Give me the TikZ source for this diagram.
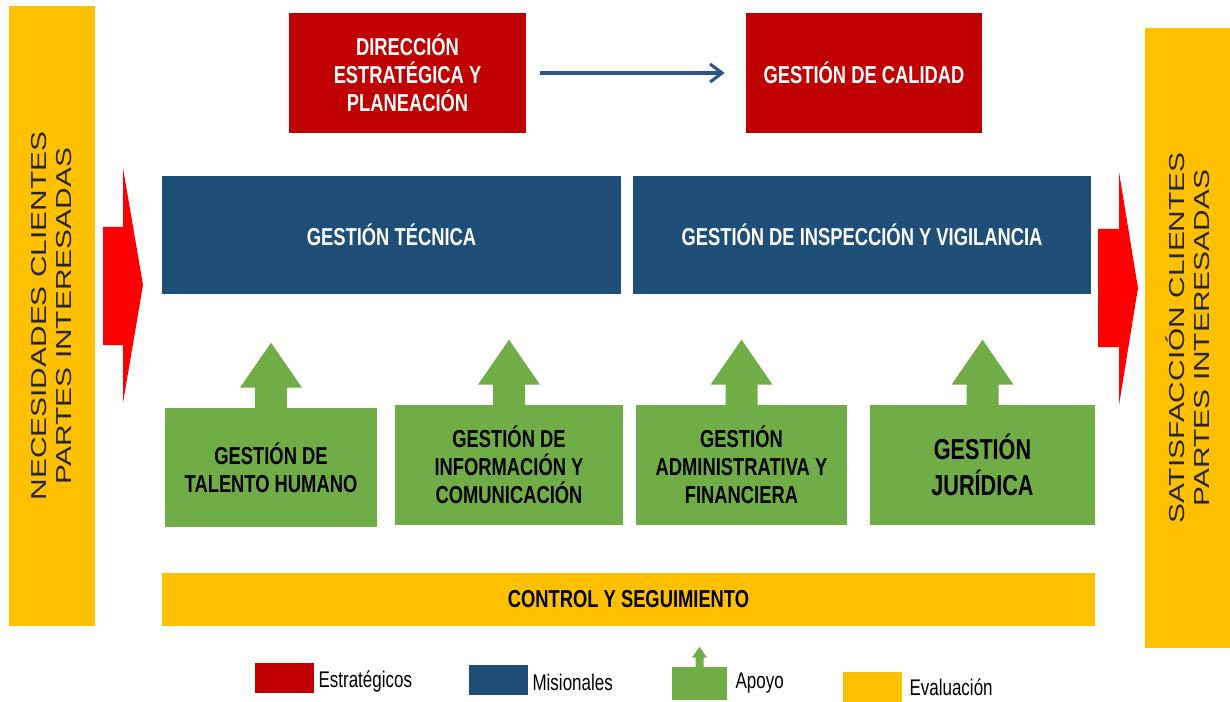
\documentclass[tikz,border=0pt]{standalone}
\usepackage{fontspec}
\setmainfont{Liberation Sans}
\newfontfamily\condfont[FakeStretch=0.75]{Liberation Sans}
\newfontfamily\widefont[FakeStretch=1.38]{Liberation Sans}
\usepackage{tikz}
\usetikzlibrary{positioning, arrows.meta}
\definecolor{estrat}{HTML}{C00000}
\definecolor{mision}{HTML}{1F4E79}
\definecolor{apoyo}{HTML}{70AD47}
\definecolor{evalua}{HTML}{FFC000}
\definecolor{flecha}{HTML}{FF0000}
\definecolor{linea}{HTML}{2C5585}
\tikzstyle{base}=[%
      rectangle, inner sep=2pt, align=center,
      font=\condfont\bfseries\fontsize{17.4}{19.9}\selectfont
]
\tikzstyle{es}=[base, fill=estrat, text=white, minimum height=3cm]
\tikzstyle{mi}=[base, fill=mision, text=white, minimum height=2.925cm]
\tikzstyle{ap}=[base, fill=apoyo, text=black, minimum height=3cm]
\tikzstyle{ev}=[base, fill=evalua, text=black]
\tikzstyle{lado}=[%
      rectangle, fill=evalua, rotate=90, align=center, text=black!85,
      minimum width=15.5cm, font=\widefont\fontsize{15.4}{17.8}\selectfont
]
\tikzstyle{ley}=[rectangle, minimum width=1.475cm, minimum height=0.75cm]
\tikzstyle{leytxt}=[inner sep=0pt, anchor=west, font=\condfont\fontsize{16.1}{18}\selectfont]

\begin{document}
\begin{tikzpicture}[x=0.025cm, y=-0.025cm]
    \useasboundingbox (0,0) rectangle (1230,702);

    % entradas y salidas
    \node[lado, minimum height=2.15cm]  (nec) at (52,316)     {NECESIDADES CLIENTES\\PARTES INTERESADAS};
    \node[lado, minimum height=2.125cm] (sat) at (1187.5,338) {SATISFACCI\'ON CLIENTES\\PARTES INTERESADAS};
    \fill[flecha] (103,227) -- (123,227) -- (123,168) -- (143,285) -- (123,403) -- (123,345) -- (103,345) -- cycle;
    \fill[flecha] (1098,229) -- (1119,229) -- (1119,172) -- (1138,288) -- (1119,405) -- (1119,347) -- (1098,347) -- cycle;

    % estrategicos
    \node[es, minimum width=5.925cm] (dir) at (407.5,73) {DIRECCI\'ON\\ESTRAT\'EGICA Y\\PLANEACI\'ON};
    \node[es, minimum width=5.9cm]   (cal) at (864,73)   {GESTI\'ON DE CALIDAD};
    \draw[linea, line width=2.2pt, -{Straight Barb[length=3mm, width=4.5mm]},
          shorten <=0.35cm, shorten >=0.525cm] (dir.east) -- (cal.west);

    % misionales
    \node[mi, minimum width=11.475cm] (tec) at (391.5,235) {GESTI\'ON T\'ECNICA};
    \node[mi, minimum width=11.45cm]  (ins) at (862,235)   {GESTI\'ON DE INSPECCI\'ON Y VIGILANCIA};

    % apoyo
    \node[ap, minimum width=5.3cm, minimum height=2.975cm] (tal) at (271,467.5) {GESTI\'ON DE\\TALENTO HUMANO};
    \node[ap, minimum width=5.7cm]   (inf) at (509,465)   {GESTI\'ON DE\\INFORMACI\'ON Y\\COMUNICACI\'ON};
    \node[ap, minimum width=5.275cm] (adm) at (741.5,465) {GESTI\'ON\\ADMINISTRATIVA Y\\FINANCIERA};
    \node[ap, minimum width=5.625cm, font=\condfont\bfseries\fontsize{20.5}{26}\selectfont]
         (jur) at (982.5,465) {GESTI\'ON\\JUR\'IDICA};
    \fill[apoyo] (tal.north) ++(-16,1) -- ++(0,-21) -- ++(-15,0) -- ++(31,-45) -- ++(31,45) -- ++(-15,0) -- ++(0,21) -- cycle;
    \fill[apoyo] (inf.north) ++(-16,1) -- ++(0,-21) -- ++(-15,0) -- ++(31,-45) -- ++(31,45) -- ++(-15,0) -- ++(0,21) -- cycle;
    \fill[apoyo] (adm.north) ++(-16,1) -- ++(0,-21) -- ++(-15,0) -- ++(31,-45) -- ++(31,45) -- ++(-15,0) -- ++(0,21) -- cycle;
    \fill[apoyo] (jur.north) ++(-16,1) -- ++(0,-21) -- ++(-15,0) -- ++(31,-45) -- ++(31,45) -- ++(-15,0) -- ++(0,21) -- cycle;

    % evaluacion
    \node[ev, minimum width=23.325cm, minimum height=1.325cm] (con) at (628.5,599.5) {CONTROL Y SEGUIMIENTO};

    % leyenda
    \node[ley, fill=estrat] (l1) at (284.5,677.5) {};
    \node[leytxt, right=0.1cm of l1, yshift=-0.1cm] (t1) {Estrat\'egicos};
    \node[ley, fill=mision] (l2) at (498.5,680) {};
    \node[leytxt, right=0.1cm of l2, yshift=-0.05cm] (t2) {Misionales};
    \node[ley, fill=apoyo, minimum width=1.375cm, minimum height=0.825cm] (l3) at (699.5,683.5) {};
    \node[leytxt, right=0.2cm of l3] (t3) {Apoyo};
    \fill[apoyo] (l3.north) ++(-4,1) -- ++(0,-10) -- ++(-3.5,0) -- ++(7.5,-11) -- ++(7.5,11) -- ++(-3.5,0) -- ++(0,10) -- cycle;
    \node[ley, fill=evalua] (l4) at (872.5,687) {};
    \node[leytxt, right=0.175cm of l4] (t4) {Evaluaci\'on};

\end{tikzpicture}
\end{document}
